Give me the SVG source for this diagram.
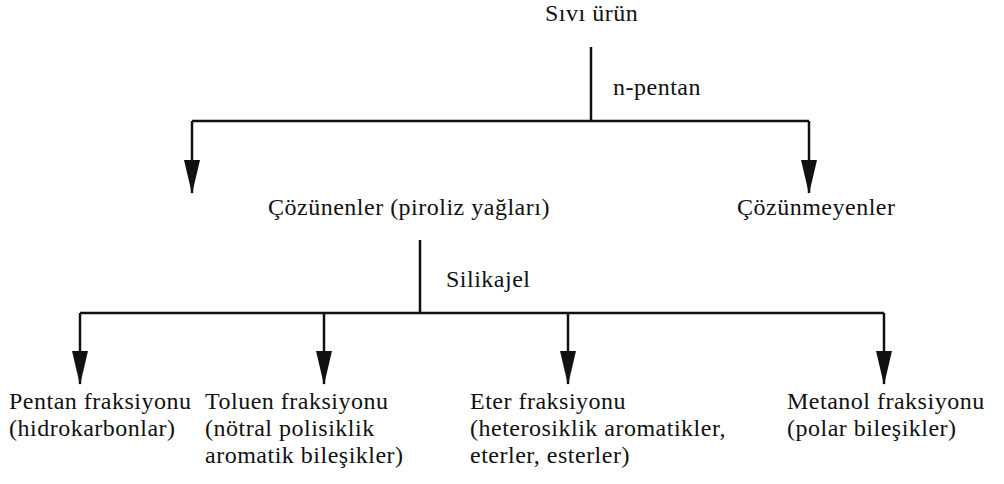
<svg xmlns="http://www.w3.org/2000/svg" width="1004" height="484" viewBox="0 0 1004 484" font-family="Liberation Serif, Tinos, Times New Roman, Times, DejaVu Serif, Noto Serif, serif" font-size="24">
<style>
text{fill:#111;letter-spacing:0.5px}
.ln{stroke:#111;stroke-width:2.5;fill:none}
.ar{marker-end:url(#ah)}
</style>
<defs>
<marker id="ah" viewBox="0 0 34 16" refX="33" refY="8" markerWidth="34" markerHeight="16" markerUnits="userSpaceOnUse" orient="auto">
<path d="M0,0 L34,8 L0,16 Z" fill="#111"/>
</marker>
</defs>
<rect width="1004" height="484" fill="#fff"/>
<g id="connectors">
<path class="ln" d="M591,47 V121"/>
<path class="ln" d="M192,121 H809"/>
<path class="ln ar" d="M192,121 V193"/>
<path class="ln ar" d="M809,121 V193"/>
<path class="ln" d="M420,240 V313"/>
<path class="ln" d="M80,313 H884"/>
<path class="ln ar" d="M80,313 V384"/>
<path class="ln ar" d="M324,313 V384"/>
<path class="ln ar" d="M568,313 V384"/>
<path class="ln ar" d="M884,313 V384"/>
<text x="613" y="95">n-pentan</text>
<text x="446" y="287">Silikajel</text>
</g>
<g id="n-sivi"><text x="545" y="21">Sıvı ürün</text></g>
<g id="n-cozunenler"><text x="268" y="215">Çözünenler (piroliz yağları)</text></g>
<g id="n-cozunmeyenler"><text x="737" y="215">Çözünmeyenler</text></g>
<g id="n-pentan"><text x="9" y="409">Pentan fraksiyonu</text><text x="9" y="436">(hidrokarbonlar)</text></g>
<g id="n-toluen"><text x="205" y="409">Toluen fraksiyonu</text><text x="205" y="436">(nötral polisiklik</text><text x="205" y="463">aromatik bileşikler)</text></g>
<g id="n-eter"><text x="470" y="409">Eter fraksiyonu</text><text x="470" y="436">(heterosiklik aromatikler,</text><text x="470" y="463">eterler, esterler)</text></g>
<g id="n-metanol"><text x="787" y="409">Metanol fraksiyonu</text><text x="787" y="436">(polar bileşikler)</text></g>
</svg>
